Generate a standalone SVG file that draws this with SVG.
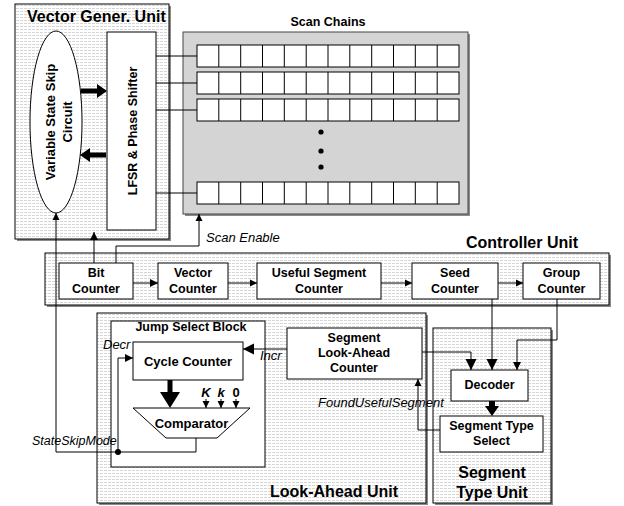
<svg xmlns="http://www.w3.org/2000/svg" xmlns:xlink="http://www.w3.org/1999/xlink" width="624" height="506" viewBox="0 0 624 506">
  <style>
    text { font-family: "Liberation Sans", Arial, Helvetica, sans-serif; fill: #000; }
    .lbl { font-weight: bold; font-size: 12.5px; text-anchor: middle; }
    .ttl { font-weight: bold; font-size: 16px; }
    .sig { font-style: italic; font-size: 13px; }
    .box { fill: #fff; stroke: #000; stroke-width: 1; }
    .unit { fill: url(#hatch); stroke: #000; stroke-width: 1; }
    .shd { fill: #8a8a8a; }
    .ln { fill: none; stroke: #000; stroke-width: 1; }
  </style>
  <defs>
    <pattern id="hatch" width="4" height="3" patternUnits="userSpaceOnUse">
      <rect width="4" height="3" fill="#fff"/>
      <rect y="2" width="3" height="1" fill="#d6d6d6"/>
    </pattern>
    <marker id="ah" viewBox="0 0 10 10" refX="10" refY="5" markerWidth="7" markerHeight="8" markerUnits="userSpaceOnUse" orient="auto">
      <path d="M0,0L10,5L0,10z" fill="#000"/>
    </marker>
    <marker id="ahM" viewBox="0 0 10 10" refX="10" refY="5" markerWidth="8" markerHeight="10" markerUnits="userSpaceOnUse" orient="auto">
      <path d="M0,0L10,5L0,10z" fill="#000"/>
    </marker>
    <marker id="ahL" viewBox="0 0 10 10" refX="10" refY="5" markerWidth="11" markerHeight="13" markerUnits="userSpaceOnUse" orient="auto">
      <path d="M0,0L10,5L0,10z" fill="#000"/>
    </marker>
    <g id="chainRow">
      <rect x="197" y="0" width="262" height="22" fill="#fff" stroke="#000"/>
      <path class="ln" d="M218.8 0V22M240.7 0V22M262.5 0V22M284.3 0V22M306.2 0V22M328 0V22M349.8 0V22M371.7 0V22M393.5 0V22M415.3 0V22M437.2 0V22"/>
    </g>
  </defs>

  <rect width="624" height="506" fill="#fff"/>

  <!-- Vector generation unit -->
  <g id="vector-gener-unit">
    <rect class="shd" x="17" y="6" width="154" height="235"/>
    <rect class="unit" x="15" y="4" width="154" height="235"/>
    <text class="ttl" x="27" y="22">Vector Gener. Unit</text>
  </g>
  <g id="state-skip-circuit">
    <ellipse cx="56" cy="122" rx="26" ry="91" fill="#fff" stroke="#000"/>
    <text class="lbl" transform="translate(54.5,122) rotate(-90)" style="font-size:13px">Variable State Skip</text>
    <text class="lbl" transform="translate(71.5,122) rotate(-90)" style="font-size:13px">Circuit</text>
  </g>
  <g id="lfsr">
    <rect class="box" x="107" y="32" width="49" height="198"/>
    <text class="lbl" transform="translate(136.5,131) rotate(-90)">LFSR &amp; Phase Shifter</text>
  </g>

  <!-- Scan chains -->
  <g id="scan-chains">
    <text class="lbl" x="328" y="26">Scan Chains</text>
    <rect class="shd" x="185" y="34" width="285" height="182"/>
    <rect x="183" y="32" width="285" height="182" fill="#d4d4d4" stroke="#444"/>
    <use xlink:href="#chainRow" y="45"/>
    <use xlink:href="#chainRow" y="72"/>
    <use xlink:href="#chainRow" y="99"/>
    <use xlink:href="#chainRow" y="182"/>
    <circle cx="321" cy="132" r="2.6"/>
    <circle cx="321" cy="151" r="2.6"/>
    <circle cx="321" cy="167" r="2.6"/>
  </g>

  <!-- Controller unit -->
  <g id="controller-unit">
    <text class="ttl" x="522" y="248" text-anchor="middle">Controller Unit</text>
    <rect class="shd" x="47" y="255" width="564" height="52"/>
    <rect class="unit" x="45" y="253" width="564" height="52"/>
  </g>
  <g id="bit-counter">
    <rect class="box" x="59" y="263" width="74" height="36"/>
    <text class="lbl" x="96" y="277">Bit</text>
    <text class="lbl" x="96" y="293">Counter</text>
  </g>
  <g id="vector-counter">
    <rect class="box" x="158" y="263" width="70" height="36"/>
    <text class="lbl" x="193" y="277">Vector</text>
    <text class="lbl" x="193" y="293">Counter</text>
  </g>
  <g id="useful-segment-counter">
    <rect class="box" x="257" y="263" width="124" height="36"/>
    <text class="lbl" x="319" y="277">Useful Segment</text>
    <text class="lbl" x="319" y="293">Counter</text>
  </g>
  <g id="seed-counter">
    <rect class="box" x="412" y="263" width="86" height="36"/>
    <text class="lbl" x="455" y="277">Seed</text>
    <text class="lbl" x="455" y="293">Counter</text>
  </g>
  <g id="group-counter">
    <rect class="box" x="523" y="263" width="77" height="36"/>
    <text class="lbl" x="561.5" y="277">Group</text>
    <text class="lbl" x="561.5" y="293">Counter</text>
  </g>

  <!-- Look-ahead unit -->
  <g id="look-ahead-unit">
    <rect class="shd" x="99" y="315" width="329" height="190"/>
    <rect class="unit" x="97" y="313" width="329" height="190"/>
    <text class="ttl" x="270" y="497">Look-Ahead Unit</text>
  </g>
  <g id="jump-select-block">
    <rect class="box" x="111" y="321" width="154" height="146"/>
    <text class="lbl" x="191" y="331">Jump Select Block</text>
  </g>
  <g id="cycle-counter">
    <rect class="box" x="133" y="342" width="110" height="38"/>
    <text class="lbl" x="188" y="366" style="font-size:13px">Cycle Counter</text>
  </g>
  <g id="comparator">
    <polygon points="133,408 250,408 217,438 166,438" fill="#fff" stroke="#000"/>
    <text class="lbl" x="191.5" y="428" style="font-size:13px">Comparator</text>
  </g>
  <g id="jump-values">
    <text class="lbl" x="206" y="397" font-style="italic" style="font-size:13px">K</text>
    <text class="lbl" x="221" y="397" font-style="italic" style="font-size:13px">k</text>
    <text class="lbl" x="236" y="397" style="font-size:13px">0</text>
  </g>
  <g id="segment-look-ahead-counter">
    <rect class="box" x="287" y="328" width="135" height="51"/>
    <text class="lbl" x="354" y="342">Segment</text>
    <text class="lbl" x="354" y="357">Look-Ahead</text>
    <text class="lbl" x="354" y="372">Counter</text>
  </g>

  <!-- Segment type unit -->
  <g id="segment-type-unit">
    <rect class="shd" x="435" y="330" width="118" height="175"/>
    <rect class="unit" x="433" y="328" width="118" height="175"/>
    <text class="ttl" x="492" y="478" text-anchor="middle">Segment</text>
    <text class="ttl" x="492" y="498" text-anchor="middle">Type Unit</text>
  </g>
  <g id="decoder">
    <rect class="box" x="451" y="370" width="77" height="31"/>
    <text class="lbl" x="489.5" y="389">Decoder</text>
  </g>
  <g id="segment-type-select">
    <rect class="box" x="440" y="416" width="103" height="36"/>
    <text class="lbl" x="491.5" y="430">Segment Type</text>
    <text class="lbl" x="491.5" y="445">Select</text>
  </g>

  <!-- Connectors -->
  <g id="connectors">
    <!-- VSS circuit <-> LFSR -->
    <polygon points="81,88.5 97,88.5 97,84 107,91 97,98 97,93.5 81,93.5"/>
    <polygon points="106,152.5 90,152.5 90,148 80,155 90,162 90,157.5 106,157.5"/>
    <!-- LFSR to scan chains -->
    <path class="ln" d="M156 56H197M156 83H197M156 110H197M156 193H197"/>
    <!-- bit counter to LFSR, scan enable -->
    <path class="ln" d="M94 263V232" marker-end="url(#ahM)"/>
    <path class="ln" d="M116 263V246H199V214" marker-end="url(#ah)"/>
    <!-- controller chain -->
    <path class="ln" d="M133 283H158" marker-end="url(#ahM)"/>
    <path class="ln" d="M228 283H257" marker-end="url(#ah)"/>
    <path class="ln" d="M381 283H412" marker-end="url(#ah)"/>
    <path class="ln" d="M498 283H523" marker-end="url(#ah)"/>
    <!-- decoder inputs -->
    <path class="ln" d="M492 299V370" stroke-width="1.5" marker-end="url(#ahL)"/>
    <path class="ln" d="M557 299V340H517V370" stroke-width="1.5" marker-end="url(#ahM)"/>
    <path class="ln" d="M422 352H471V370" stroke-width="1.5" marker-end="url(#ahL)"/>
    <!-- decoder to segment type select -->
    <polygon points="489,401 495,401 495,406 499,406 492,416 485,406 489,406"/>
    <!-- found useful segment -->
    <path class="ln" d="M440 430H418V379" marker-end="url(#ah)"/>
    <!-- increment -->
    <path class="ln" d="M287 349H243" stroke-width="1.8" marker-end="url(#ahL)"/>
    <!-- cycle counter to comparator -->
    <polygon points="167.5,380 172.5,380 172.5,392 180,392 170,408 160,392 167.5,392"/>
    <path class="ln" d="M206 399V408" marker-end="url(#ah)"/>
    <path class="ln" d="M221 399V408" marker-end="url(#ah)"/>
    <path class="ln" d="M236 399V408" marker-end="url(#ah)"/>
    <!-- state skip mode feedback -->
    <path class="ln" d="M196 438V452H56V213" marker-end="url(#ah)"/>
    <path class="ln" d="M118 452V358H133" marker-end="url(#ahM)"/>
    <circle cx="118" cy="452" r="3"/>
  </g>

  <!-- Signal names -->
  <g id="signal-labels">
    <text class="sig" x="206" y="242">Scan Enable</text>
    <text class="sig" x="103" y="349">Decr</text>
    <text class="sig" x="260" y="360">Incr</text>
    <text class="sig" x="318" y="407">FoundUsefulSegment</text>
    <text class="sig" x="32" y="445" style="font-size:12.5px">StateSkipMode</text>
  </g>
</svg>
